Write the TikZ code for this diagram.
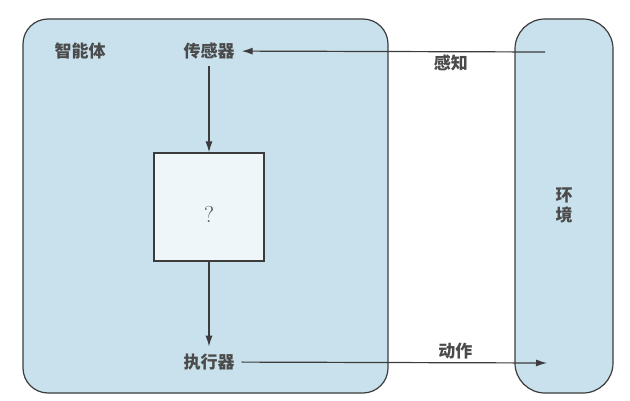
\documentclass[tikz,border=0pt]{standalone}
\usepackage{fontspec}
\newfontfamily\cjk{Noto Sans CJK SC}
\usetikzlibrary{arrows.meta}
\definecolor{panelblue}{RGB}{200,225,236}
\definecolor{corefill}{RGB}{238,246,250}
\definecolor{inkgray}{RGB}{60,60,60}
\definecolor{textgray}{RGB}{75,75,75}
\tikzset{
  frame/.style = {draw = inkgray, line width = 1.2pt, fill = panelblue},
  lbl/.style = {font = \cjk\bfseries\fontsize{17}{20}\selectfont, text = textgray, inner sep = 7pt},
  corebox/.style = {draw = inkgray, line width = 1.2pt, fill = corefill,
                    minimum width = 110pt, minimum height = 108pt,
                    text height = 32pt, text depth = 0pt,
                    font = \rmfamily\fontsize{23}{26}\selectfont, text = textgray},
  flow/.style = {draw = inkgray, line width = 1.2pt, -{Latex[length = 11pt, width = 7pt]}}
}
\begin{document}
\begin{tikzpicture}[x = 1pt, y = -1pt]
    \useasboundingbox (0,0) rectangle (630,401);
    % the two panels
    \draw[frame, rounded corners = 25pt] (23,19) rectangle (388,393);
    \draw[frame, rounded corners = 30pt] (515,19) rectangle (613,393);
    % labels and the unknown box
    \node[lbl] (agent) at (80,51) {智能体};
    \node[lbl] (sensor) at (209,51) {传感器};
    \node[corebox] (core) at (209,207) {?};
    \node[lbl] (actuator) at (209,362) {执行器};
    \node[lbl, align = center] (env) at (564,205) {环\\境};
    \coordinate (envin) at (545,52);
    \coordinate (envout) at (547,363);
    % connectors
    \draw[flow] (envin) -- node[lbl, pos = 0.31, below, inner sep = 3pt] (percept) {感知} (sensor);
    \draw[flow] (sensor) -- (core);
    \draw[flow] (core) -- (actuator);
    \draw[flow] (actuator) -- node[lbl, pos = 0.70, above, inner sep = 3pt] (action) {动作} (envout);
\end{tikzpicture}
\end{document}
